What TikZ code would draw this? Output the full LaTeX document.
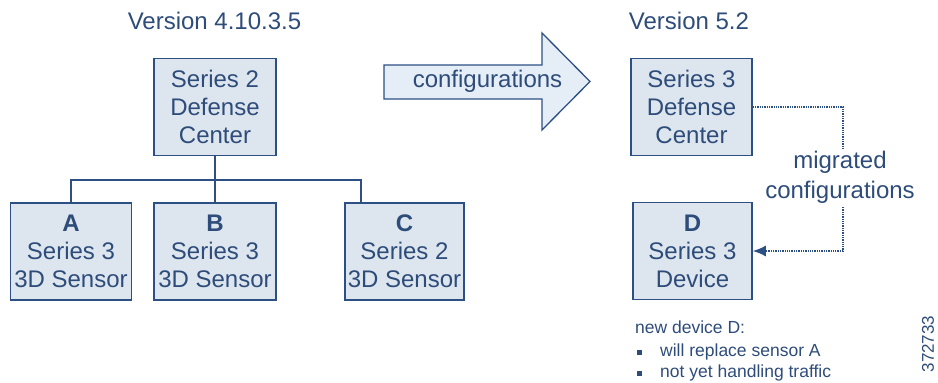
\documentclass[tikz,border=0pt]{standalone}
\usepackage{fontspec}
\setmainfont{Liberation Sans}
\usetikzlibrary{arrows.meta}
\definecolor{ln}{RGB}{44,80,132}
\definecolor{tx}{RGB}{46,76,122}
\definecolor{bx}{RGB}{221,230,238}
\definecolor{ar}{RGB}{229,237,247}
\begin{document}
\begin{tikzpicture}[x=1pt,y=-1pt,
  box/.style={draw=ln, line width=1.6pt, fill=bx, text=tx, align=center,
    font=\fontsize{24}{28}\selectfont, minimum height=97pt, inner sep=0pt},
  lbl/.style={text=tx, font=\fontsize{24}{30}\selectfont, inner sep=0pt, align=center},
  bus/.style={draw=ln, line width=1.6pt},
  migline/.style={draw=ln, line width=1.4pt, dash pattern=on 1.3pt off 1pt},
  note/.style={text=tx, font=\fontsize{17.5}{21}\selectfont, inner sep=0pt, anchor=west},
  bullet/.style={fill=tx, minimum size=5pt, inner sep=0pt}]
\path[use as bounding box] (0,0) rectangle (938,383);

% left side
\node[lbl] (v4) at (214.5,21) {Version 4.10.3.5};
\node[box, minimum width=122pt] (dc2) at (215,107) {Series 2\\Defense\\Center};
\node[box, minimum width=121pt] (a) at (71,251.5) {\textbf{A}\\Series 3\\3D Sensor};
\node[box, minimum width=122pt] (b) at (215,251.5) {\textbf{B}\\Series 3\\3D Sensor};
\node[box, minimum width=119pt] (c) at (404.5,251.5) {\textbf{C}\\Series 2\\3D Sensor};
\coordinate (bus) at (215,180);
\coordinate (cdrop) at (361,180);
\draw[bus] (dc2.south) -- (b.north);
\draw[bus] (a.north) |- (cdrop) -- (cdrop |- c.north);

% big arrow
\draw[draw=ln, line width=1.3pt, fill=ar]
  (384,65) -- (542,65) -- (542,33) -- (590,81.5) -- (542,130) -- (542,99) -- (384,99) -- cycle;
\node[lbl] (cfg) at (487.5,81) {configurations};

% right side
\node[lbl] (v5) at (689,21) {Version 5.2};
\node[box, minimum width=121pt] (dc3) at (691.5,107) {Series 3\\Defense\\Center};
\node[box, minimum width=119pt] (d) at (692.5,251) {\textbf{D}\\Series 3\\Device};
\node[lbl] (mig) at (840,177) {migrated\\configurations};
\coordinate (mt) at (843,150);
\coordinate (mb) at (843,207);
\draw[migline] (dc3.east) -| (mt);
\draw[migline, -{Latex[length=13pt,width=11pt]}] (mb) |- (d.east);

% notes
\node[note] (n0) at (635,327) {new device D:};
\node[bullet] (b1) at (639,352) {};
\node[note] (n1) at (660,352) {will replace sensor A};
\node[bullet] (b2) at (639,373) {};
\node[note] (n2) at (660,373) {not yet handling traffic};
\node[text=tx, font=\fontsize{17}{19}\selectfont, rotate=90, inner sep=0pt] (id) at (928,344) {372733};
\end{tikzpicture}
\end{document}
